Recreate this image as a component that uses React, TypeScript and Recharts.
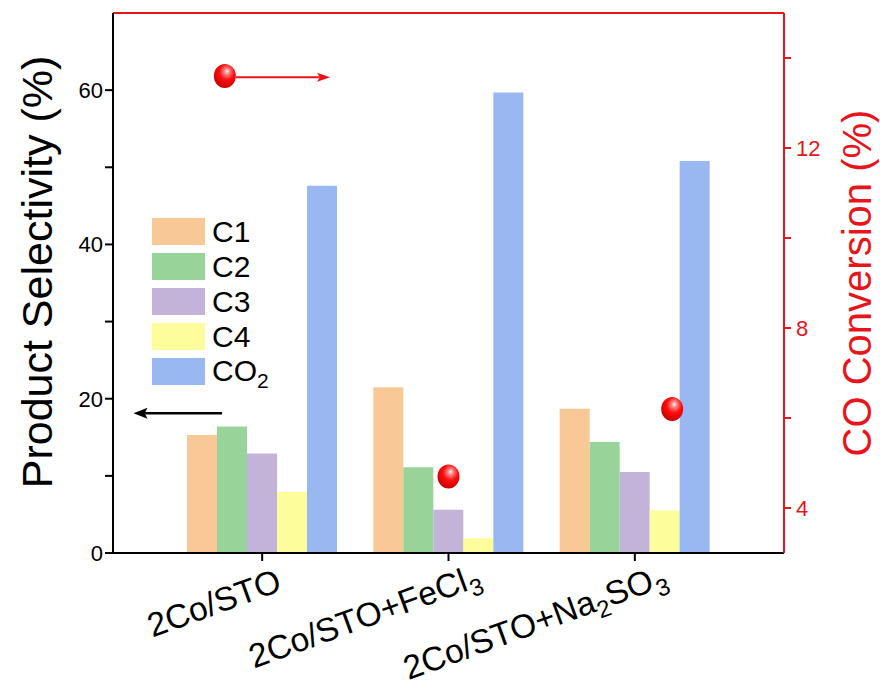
import React from "react"
import {
  ComposedChart,
  Bar,
  Scatter,
  XAxis,
  YAxis,
  Legend,
  ReferenceLine,
  ReferenceDot,
} from "recharts"

// ---- data ----
// "_" marks the next character as a subscript
const categories = ["2Co/STO", "2Co/STO+FeCl_3", "2Co/STO+Na_2SO_3"]
const c1 = [15.3, 21.5, 18.7]
const c2 = [16.4, 11.1, 14.4]
const c3 = [12.9, 5.6, 10.5]
const c4 = [7.9, 1.9, 5.5]
const co2 = [47.6, 59.7, 50.8]

// CO conversion (right axis); x is in category units (0 = first group)
const convX = [1.0, 2.2]
const convY = [4.7, 6.2]

const seriesKeys = ["C1", "C2", "C3", "C4", "CO2"]
const seriesLabels = ["C1", "C2", "C3", "C4", "CO_2"]
const seriesColors = ["#F9C897", "#98D49A", "#C3B3D8", "#FDFD9C", "#99B8F1"]

const leftTicks = [0, 10, 20, 30, 40, 50, 60]
const rightTicks = [4, 6, 8, 10, 12, 14]

const RED = "#E8141C"
const FONT = "'Liberation Sans', Arial, Helvetica, sans-serif"

const rows = categories.map((name, i) => ({
  name,
  C1: c1[i],
  C2: c2[i],
  C3: c3[i],
  C4: c4[i],
  CO2: co2[i],
}))
const convPoints = convX.map((x, i) => ({ x, y: convY[i] }))

// split "FeCl_3" into plain / subscript pieces
function splitFormula(s: string) {
  const parts: { text: string; sub: boolean }[] = []
  for (let i = 0; i < s.length; i++) {
    if (s[i] === "_" && i + 1 < s.length) {
      parts.push({ text: s[i + 1], sub: true })
      i++
    } else {
      const last = parts[parts.length - 1]
      if (last && !last.sub) last.text += s[i]
      else parts.push({ text: s[i], sub: false })
    }
  }
  return parts
}

function renderTspans(parts: { text: string; sub: boolean }[], subSize: number, drop: number) {
  let prevSub = false
  return parts.map((p, i) => {
    const dy = (p.sub ? drop : 0) - (prevSub ? drop : 0)
    prevSub = p.sub
    return (
      <tspan key={i} dy={dy} fontSize={p.sub ? subSize : undefined}>
        {p.text}
      </tspan>
    )
  })
}

function CategoryTick(props: any) {
  const { x, y, payload } = props
  const parts = splitFormula(String(payload.value))
  const last = parts[parts.length - 1]
  const trailing = last.sub ? last : null
  const main = trailing ? parts.slice(0, -1) : parts
  return (
    <g transform={`translate(${x + 21},${y + 27}) rotate(-20)`}>
      <text textAnchor="end" fontSize={33.5} fontFamily={FONT} fill="#000">
        {renderTspans(main, 24, 8)}
      </text>
      {trailing && (
        <text x={1} y={8} textAnchor="start" fontSize={24} fontFamily={FONT} fill="#000">
          {trailing.text}
        </text>
      )}
    </g>
  )
}

function Ball(props: any) {
  const { cx, cy } = props
  if (cx == null || cy == null) return null
  const id = `ball-${Math.round(cx)}-${Math.round(cy)}`
  return (
    <g>
      <defs>
        <radialGradient id={id} cx="0.58" cy="0.36" r="0.7" fx="0.6" fy="0.3">
          <stop offset="0%" stopColor="#ffffff" />
          <stop offset="16%" stopColor="#ff8a8a" />
          <stop offset="48%" stopColor="#ff0d0d" />
          <stop offset="100%" stopColor="#c00000" />
        </radialGradient>
      </defs>
      <ellipse cx={cx} cy={cy} rx={11} ry={12} fill={`url(#${id})`} />
    </g>
  )
}

function arrowShape(color: string, width: number, head: number, half: number) {
  return (p: any) => {
    const { x1, y1, x2, y2 } = p
    const dir = Math.sign(x2 - x1) || 1
    return (
      <g>
        <line x1={x1} y1={y1} x2={x2 - dir * head * 0.8} y2={y2} stroke={color} strokeWidth={width} />
        <polygon
          points={`${x2},${y2} ${x2 - dir * head},${y2 - half} ${x2 - dir * head * 0.8},${y2} ${x2 - dir * head},${y2 + half}`}
          fill={color}
        />
      </g>
    )
  }
}

function LegendBox() {
  return (
    <div style={{ display: "flex", flexDirection: "column", gap: 8 }}>
      {seriesKeys.map((k, i) => (
        <div key={k} style={{ display: "flex", alignItems: "center", height: 27 }}>
          <div style={{ width: 53, height: 27, background: seriesColors[i] }} />
          <span style={{ marginLeft: 7, fontSize: 30, fontFamily: FONT, color: "#000", lineHeight: "27px" }}>
            {splitFormula(seriesLabels[i]).map((p, j) =>
              p.sub ? (
                <span key={j} style={{ fontSize: 21, position: "relative", top: 7 }}>
                  {p.text}
                </span>
              ) : (
                <span key={j}>{p.text}</span>
              )
            )}
          </span>
        </div>
      ))}
    </div>
  )
}

export default function App() {
  return (
    <div style={{ position: "absolute", left: 0, top: 0, width: 880, height: 693, background: "#fff" }}>
      <ComposedChart
        width={880}
        height={693}
        data={rows}
        margin={{ top: 13, right: 8, left: 0, bottom: 0 }}
        barCategoryGap={18}
        barGap={0}
      >
        <XAxis
          xAxisId="cat"
          dataKey="name"
          type="category"
          height={140}
          padding={{ left: 56, right: 56 }}
          axisLine={{ stroke: "#000", strokeWidth: 2 }}
          tickLine={{ stroke: "#000", strokeWidth: 2 }}
          tickSize={8}
          tick={<CategoryTick />}
          interval={0}
        />
        <XAxis xAxisId="num" dataKey="x" type="number" domain={[-0.8, 2.8]} hide allowDataOverflow />
        <YAxis
          yAxisId="left"
          width={113}
          domain={[0, 70]}
          ticks={leftTicks}
          interval={0}
          allowDataOverflow
          tickFormatter={(v: number) => (v % 20 === 0 ? String(v) : "")}
          tick={{ fill: "#000", fontSize: 22, fontFamily: FONT }}
          tickSize={8}
          tickMargin={2}
          axisLine={{ stroke: "#000", strokeWidth: 2 }}
          tickLine={{ stroke: "#000", strokeWidth: 2 }}
          label={() => (
            <text
              x={37}
              y={272}
              transform="rotate(-90, 37, 272)"
              textAnchor="middle"
              dominantBaseline="central"
              fontSize={43}
              fontFamily={FONT}
              fill="#000"
            >
              Product Selectivity (%)
            </text>
          )}
        />
        <YAxis
          yAxisId="right"
          orientation="right"
          width={88}
          domain={[3, 15]}
          ticks={rightTicks}
          interval={0}
          allowDataOverflow
          tickFormatter={(v: number) => (v % 4 === 0 ? String(v) : "")}
          tick={{ fill: RED, fontSize: 22, fontFamily: FONT }}
          tickSize={7}
          tickMargin={5}
          axisLine={{ stroke: RED, strokeWidth: 2 }}
          tickLine={{ stroke: RED, strokeWidth: 2 }}
          label={() => (
            <text
              x={857}
              y={283}
              transform="rotate(-90, 857, 283)"
              textAnchor="middle"
              dominantBaseline="central"
              fontSize={40}
              fontFamily={FONT}
              fill={RED}
            >
              CO Conversion (%)
            </text>
          )}
        />
        <Legend
          layout="vertical"
          align="center"
          verticalAlign="middle"
          content={() => <LegendBox />}
          wrapperStyle={{ left: 152, top: 218, width: 130, height: 175 }}
        />
        {seriesKeys.map((k, i) => (
          <Bar
            key={k}
            dataKey={k}
            xAxisId="cat"
            yAxisId="left"
            fill={seriesColors[i]}
            isAnimationActive={false}
          />
        ))}
        <ReferenceLine yAxisId="left" xAxisId="cat" y={70} stroke={RED} strokeWidth={2} />
        <Scatter
          data={convPoints}
          dataKey="y"
          xAxisId="num"
          yAxisId="right"
          shape={Ball}
          isAnimationActive={false}
        />
        {/* axis hints: bars -> left axis, balls -> right axis */}
        <ReferenceLine
          xAxisId="num"
          yAxisId="left"
          segment={[{ x: -0.215, y: 18.1 }, { x: -0.69, y: 18.1 }]}
          shape={arrowShape("#000", 2.5, 14, 5.5)}
        />
        <ReferenceLine
          xAxisId="num"
          yAxisId="right"
          segment={[{ x: -0.14, y: 13.57 }, { x: 0.365, y: 13.57 }]}
          shape={arrowShape(RED, 2, 13, 4.5)}
        />
        <ReferenceDot xAxisId="num" yAxisId="right" x={-0.2} y={13.6} shape={Ball} />
      </ComposedChart>
    </div>
  )
}
